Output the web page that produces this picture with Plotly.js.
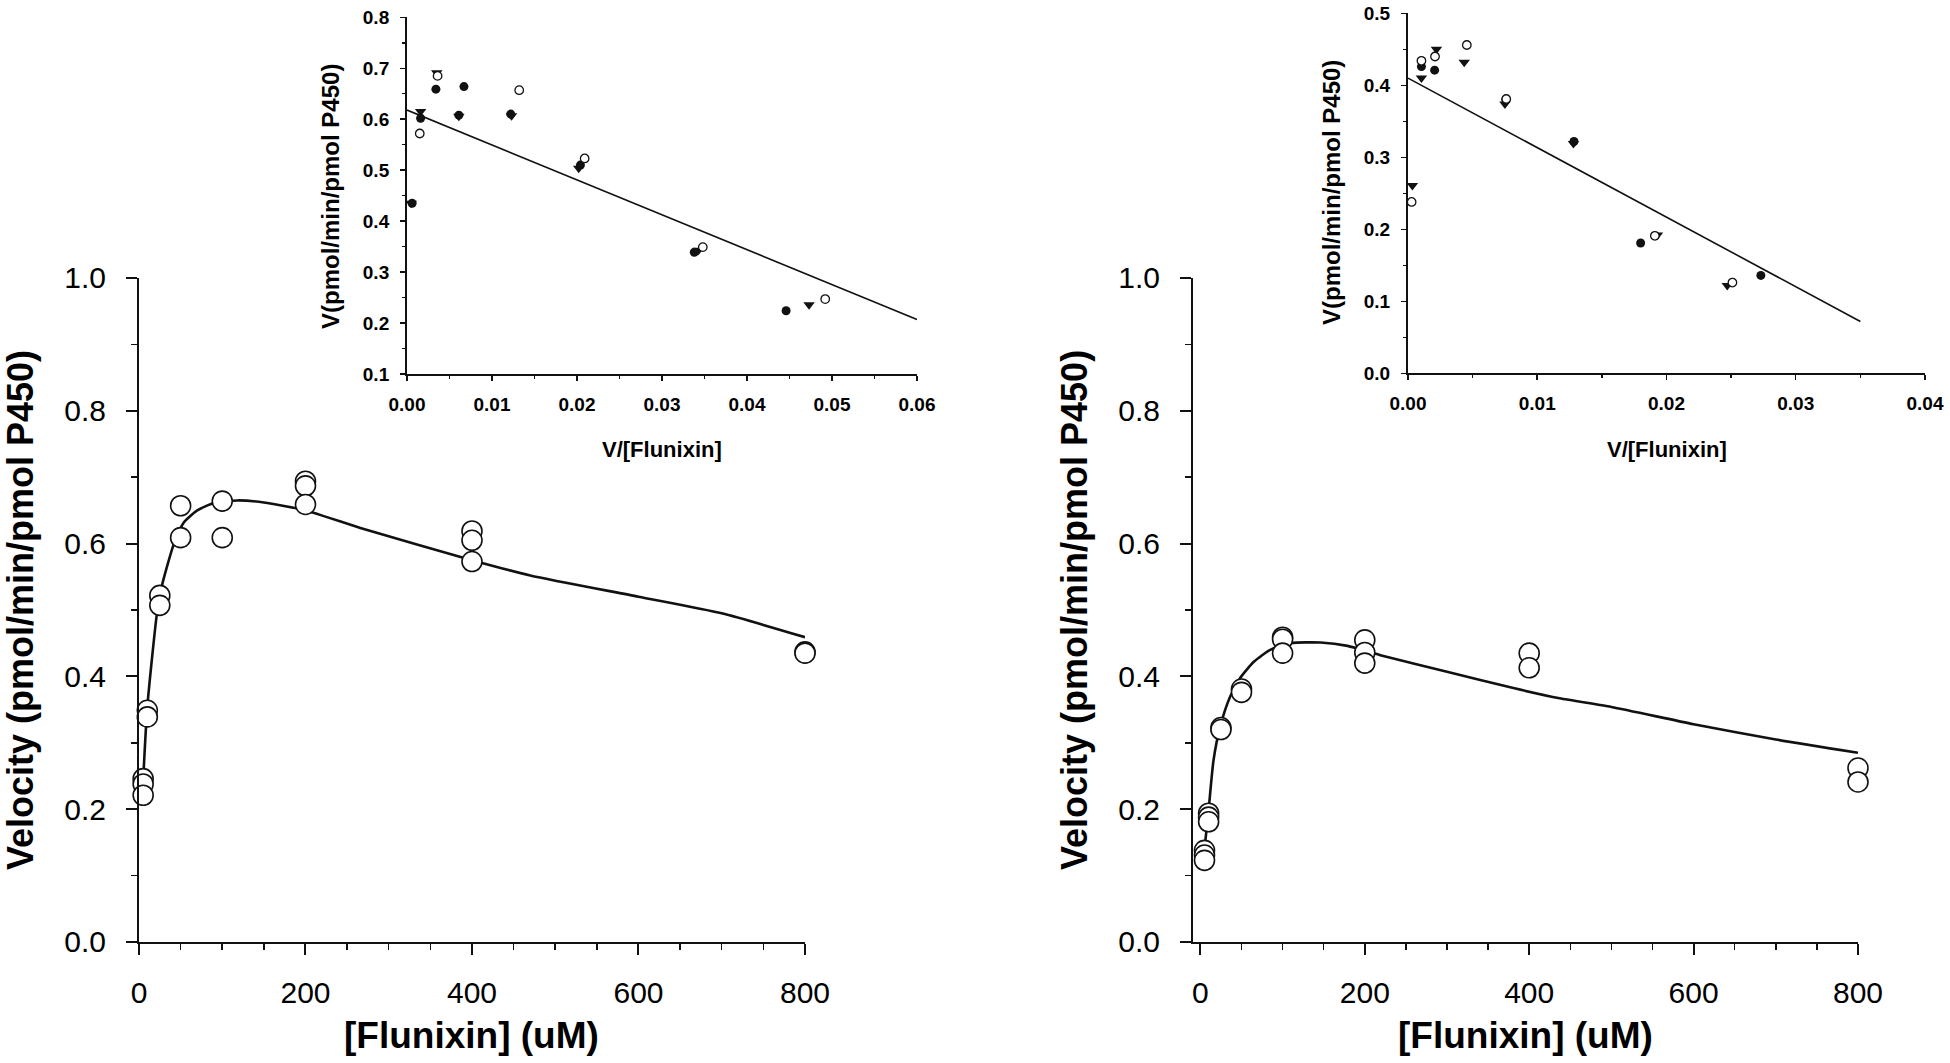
<!DOCTYPE html>
<html>
<head>
<meta charset="utf-8">
<script src="https://cdn.plot.ly/plotly-3.0.1.min.js"></script>
<style>
  html, body { margin: 0; padding: 0; background: #fff; }
  #myPlot { width: 1950px; height: 1063px; }
</style>
</head>
<body>
<div id="myPlot"></div>
<script>
// main plots: velocity vs flunixin conc (all replicates as open circles)
let concA = [5, 5, 5, 10, 10, 25, 25, 50, 50, 100, 100, 200, 200, 200, 400, 400, 400, 800, 800];
let velA  = [0.246, 0.238, 0.221, 0.349, 0.339, 0.522, 0.507, 0.657, 0.609, 0.664, 0.609, 0.694, 0.687, 0.659, 0.619, 0.605, 0.573, 0.437, 0.435];
let fitXA = [4, 10, 22, 28, 42, 54, 70, 90, 118, 150, 200, 270, 400, 470, 600, 700, 800];
let fitYA = [0.218, 0.354, 0.499, 0.539, 0.600, 0.632, 0.650, 0.661, 0.665, 0.662, 0.650, 0.622, 0.575, 0.552, 0.520, 0.495, 0.459];

let concB = [5, 5, 5, 10, 10, 10, 25, 25, 50, 50, 100, 100, 100, 200, 200, 200, 400, 400, 800, 800];
let velB  = [0.138, 0.131, 0.123, 0.194, 0.188, 0.181, 0.323, 0.320, 0.381, 0.376, 0.459, 0.456, 0.435, 0.455, 0.436, 0.420, 0.435, 0.413, 0.262, 0.241];
let fitXB = [3, 5, 10, 16, 24, 36, 48, 65, 85, 110, 146, 179, 219, 300, 382, 437, 500, 600, 700, 800];
let fitYB = [0.110, 0.140, 0.199, 0.274, 0.324, 0.369, 0.397, 0.422, 0.440, 0.450, 0.451, 0.446, 0.432, 0.407, 0.382, 0.367, 0.354, 0.328, 0.305, 0.285];

// insets: Eadie-Hofstee, three replicate sets
let eaFilledX = [0.0006, 0.0016, 0.0034, 0.0061, 0.0067, 0.0122, 0.0204, 0.0338, 0.0446];
let eaFilledY = [0.435, 0.602, 0.659, 0.608, 0.664, 0.610, 0.510, 0.339, 0.224];
let eaTriX = [0.0005, 0.0016, 0.0035, 0.0061, 0.0123, 0.0202, 0.0343, 0.0473];
let eaTriY = [0.435, 0.615, 0.691, 0.606, 0.607, 0.504, 0.343, 0.236];
let eaOpenX = [0.0015, 0.0036, 0.0132, 0.0209, 0.0348, 0.0492];
let eaOpenY = [0.572, 0.685, 0.657, 0.523, 0.349, 0.247];
let eaLineX = [0, 0.06];
let eaLineY = [0.618, 0.207];

let ebFilledX = [0.00104, 0.00206, 0.00757, 0.01284, 0.0180, 0.0273];
let ebFilledY = [0.426, 0.421, 0.380, 0.322, 0.181, 0.136];
let ebTriX = [0.00034, 0.00104, 0.0022, 0.00435, 0.0075, 0.0128, 0.0193, 0.0247];
let ebTriY = [0.261, 0.410, 0.450, 0.432, 0.374, 0.319, 0.192, 0.122];
let ebOpenX = [0.00028, 0.00104, 0.00209, 0.00455, 0.0076, 0.0191, 0.0251];
let ebOpenY = [0.238, 0.434, 0.440, 0.456, 0.381, 0.191, 0.126];
let ebLineX = [0, 0.035];
let ebLineY = [0.410, 0.072];

const FONT = 'Arial, "Liberation Sans", sans-serif';
const INK = '#111';

function openCircles(x, y, xa, ya) {
  return {x: x, y: y, xaxis: xa, yaxis: ya, mode: 'markers', type: 'scatter', cliponaxis: false,
    marker: {symbol: 'circle', size: 20, color: '#fff', line: {color: INK, width: 1.6}}};
}
function fitLine(x, y, xa, ya, w, shape) {
  return {x: x, y: y, xaxis: xa, yaxis: ya, mode: 'lines', type: 'scatter', cliponaxis: false,
    line: {color: INK, width: w, shape: shape, smoothing: 0.6}};
}
function small(x, y, xa, ya, kind) {
  let m;
  if (kind == 'tri') m = {symbol: 'triangle-down', size: 10, color: INK};
  else if (kind == 'filled') m = {symbol: 'circle', size: 9, color: INK};
  else m = {symbol: 'circle', size: 8.5, color: '#fff', line: {color: INK, width: 1.3}};
  return {x: x, y: y, xaxis: xa, yaxis: ya, mode: 'markers', type: 'scatter', cliponaxis: false, marker: m};
}

let data1 = [
  fitLine(fitXA, fitYA, 'x', 'y', 2.6, 'spline'),
  openCircles(concA, velA, 'x', 'y'),
  fitLine(fitXB, fitYB, 'x2', 'y2', 2.6, 'spline'),
  openCircles(concB, velB, 'x2', 'y2'),
  fitLine(eaLineX, eaLineY, 'x3', 'y3', 1.6, 'linear'),
  small(eaTriX, eaTriY, 'x3', 'y3', 'tri'),
  small(eaFilledX, eaFilledY, 'x3', 'y3', 'filled'),
  small(eaOpenX, eaOpenY, 'x3', 'y3', 'open'),
  fitLine(ebLineX, ebLineY, 'x4', 'y4', 1.6, 'linear'),
  small(ebTriX, ebTriY, 'x4', 'y4', 'tri'),
  small(ebFilledX, ebFilledY, 'x4', 'y4', 'filled'),
  small(ebOpenX, ebOpenY, 'x4', 'y4', 'open')
];

function mainX(dom, range, anchor) {
  return {domain: dom, range: range, anchor: anchor, showgrid: false, zeroline: false,
    showline: true, linecolor: INK, linewidth: 2, ticks: 'outside', ticklen: 11, tickwidth: 2, tickcolor: INK,
    tickvals: [0, 200, 400, 600, 800], ticklabelstandoff: 12,
    tickfont: {family: FONT, size: 30, color: '#000'},
    minor: {dtick: 50, ticks: 'outside', ticklen: 6, tickwidth: 1.5, tickcolor: INK}};
}
function mainY(dom, anchor) {
  return {domain: dom, range: [0, 1.0], anchor: anchor, showgrid: false, zeroline: false,
    showline: true, linecolor: INK, linewidth: 2, ticks: 'outside', ticklen: 11, tickwidth: 2, tickcolor: INK,
    dtick: 0.2, tick0: 0, tickformat: '.1f', ticklabelstandoff: 14,
    tickfont: {family: FONT, size: 30, color: '#000'},
    minor: {dtick: 0.1, ticks: 'outside', ticklen: 6, tickwidth: 1.5, tickcolor: INK}};
}
function insetX(dom, range, anchor) {
  return {domain: dom, range: range, anchor: anchor, showgrid: false, zeroline: false,
    showline: true, linecolor: INK, linewidth: 2, ticks: 'outside', ticklen: 5, tickwidth: 1.5, tickcolor: INK,
    dtick: 0.01, tick0: 0, tickformat: '.2f', ticklabelstandoff: 7,
    tickfont: {family: FONT, size: 19, color: '#000', weight: 'bold'},
    minor: {dtick: 0.005, ticks: 'outside', ticklen: 3, tickwidth: 1.5, tickcolor: INK}};
}
function insetY(dom, range, anchor) {
  return {domain: dom, range: range, anchor: anchor, showgrid: false, zeroline: false,
    showline: true, linecolor: INK, linewidth: 2, ticks: 'outside', ticklen: 5, tickwidth: 1.5, tickcolor: INK,
    dtick: 0.1, tick0: 0, tickformat: '.1f', ticklabelstandoff: 7,
    tickfont: {family: FONT, size: 19, color: '#000', weight: 'bold'},
    minor: {dtick: 0.05, ticks: 'outside', ticklen: 3, tickwidth: 1.5, tickcolor: INK}};
}

function label(text, x, y, size, angle) {
  return {text: text, x: x, y: y, xref: 'paper', yref: 'paper', showarrow: false,
    xanchor: 'center', yanchor: 'middle', textangle: angle || 0,
    font: {family: FONT, size: size, color: '#000', weight: 'bold'}};
}

let layout = {
  width: 1950,
  height: 1063,
  margin: {l: 0, r: 0, t: 0, b: 0},
  paper_bgcolor: '#fff',
  plot_bgcolor: 'rgba(0,0,0,0)',
  showlegend: false,
  xaxis:  mainX([0.07128, 0.41282], [0, 800], 'y'),
  yaxis:  mainY([0.11383, 0.73848], 'x'),
  xaxis2: mainX([0.61179, 0.95282], [-9, 800], 'y2'),
  yaxis2: mainY([0.11383, 0.73848], 'x2'),
  xaxis3: insetX([0.20872, 0.47026], [0, 0.06], 'y3'),
  yaxis3: insetY([0.64817, 0.98373], [0.1, 0.8], 'x3'),
  xaxis4: insetX([0.72205, 0.98718], [0, 0.04], 'y4'),
  yaxis4: insetY([0.64882, 0.98749], [0, 0.5], 'x4'),
  annotations: [
    label('[Flunixin] (uM)', 0.24205, 0.02634, 37),
    label('[Flunixin] (uM)', 0.78231, 0.02634, 37),
    label('Velocity (pmol/min/pmol P450)', 0.01026, 0.42615, 36, -90),
    label('Velocity (pmol/min/pmol P450)', 0.55077, 0.42615, 36, -90),
    label('V/[Flunixin]', 0.33949, 0.57761, 22),
    label('V/[Flunixin]', 0.85462, 0.57761, 22),
    label('V(pmol/min/pmol P450)', 0.16974, 0.81562, 24, -90),
    label('V(pmol/min/pmol P450)', 0.68308, 0.81844, 24, -90)
  ]
};

Plotly.newPlot("myPlot", data1, layout, {staticPlot: true});
</script>
</body>
</html>
